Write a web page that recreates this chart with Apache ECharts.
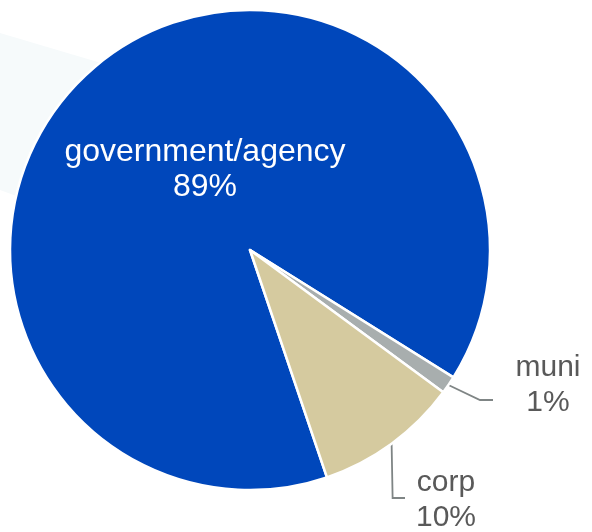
<!DOCTYPE html>
<html>
<head>
<meta charset="utf-8">
<script src="https://cdn.jsdelivr.net/npm/echarts@6/dist/echarts.min.js"></script>
<style>
html,body{margin:0;padding:0;background:#fff;}
#c{width:592px;height:532px;}
</style>
</head>
<body>
<div id="c"></div>
<script>
const categories = ['government/agency', 'muni', 'corp'];
const values = [89.1, 1.2, 9.7];
const colors = ['#0047BB', '#A8AEAE', '#D5CA9F'];

const chart = echarts.init(document.getElementById('c'), null, {renderer: 'canvas'});
const FONT = '"Liberation Sans", Arial, sans-serif';

const data = categories.map((name, i) => ({
  name: name,
  value: values[i],
  itemStyle: {color: colors[i]},
  label: i === 0
    ? {color: '#ffffff', fontSize: 32, lineHeight: 35}
    : {color: '#595959', fontSize: 30, lineHeight: 35},
  labelLine: {show: i !== 0}
}));

chart.setOption({
  animation: false,
  backgroundColor: '#ffffff',
  graphic: [{
    type: 'polygon',
    z: -10,
    silent: true,
    shape: {points: [[0, 33], [300, 122], [300, 300], [0, 190]]},
    style: {fill: '#F6FAFB'}
  }],
  series: [{
    type: 'pie',
    center: [250, 250],
    radius: [0, 240],
    startAngle: 288.7,
    clockwise: true,
    avoidLabelOverlap: false,
    data: data,
    itemStyle: {borderColor: '#ffffff', borderWidth: 2.5},
    label: {
      show: true,
      fontFamily: FONT,
      align: 'center',
      formatter: p => p.name + '\n' + Math.round(p.percent) + '%'
    },
    labelLine: {
      show: true,
      length: 20,
      length2: 15,
      lineStyle: {color: '#7F8585', width: 1.8}
    },
    labelLayout: function (params) {
      const i = params.dataIndex;
      if (i === 0) {
        return {x: 205, y: 170, align: 'center', verticalAlign: 'middle'};
      }
      const p0 = params.labelLinePoints ? params.labelLinePoints[0] : [0, 0];
      if (i === 1) {
        return {
          x: 548, y: 385, align: 'center', verticalAlign: 'middle',
          labelLinePoints: [p0, [480, 400], [493, 400]]
        };
      }
      return {
        x: 446, y: 500, align: 'center', verticalAlign: 'middle',
        labelLinePoints: [p0, [p0[0] + 1, 498], [405, 498]]
      };
    }
  }]
});
</script>
</body>
</html>
